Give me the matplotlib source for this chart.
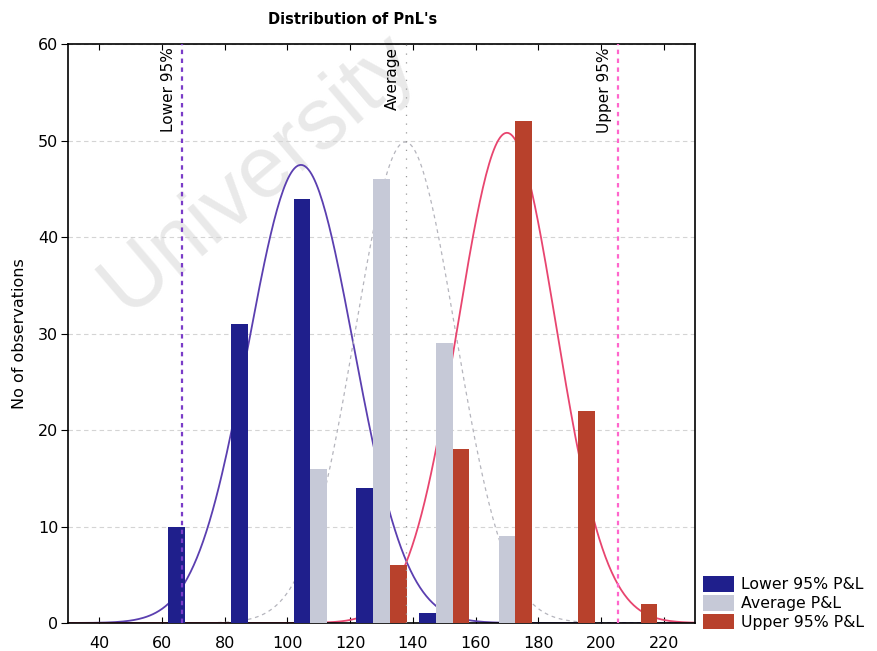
import numpy as np
import matplotlib
matplotlib.use("Agg")
import matplotlib.pyplot as plt
from matplotlib.patches import Patch

# histogram bins (centre of each 20-wide class)
bin_centers = [70, 90, 110, 130, 150, 170, 190, 210]
lower_counts = [10, 31, 44, 14, 1, 0, 0, 0]
average_counts = [0, 0, 16, 46, 29, 9, 0, 0]
upper_counts = [0, 0, 0, 6, 18, 52, 22, 2]
bin_width = 20

# fitted normal curves (mean, sd)
lower_fit = (104.3, 16.8)
average_fit = (137.6, 16.0)
upper_fit = (170.0, 15.7)

# marker lines
marker_names = ["Lower 95%", "Average", "Upper 95%"]
marker_values = [66.4, 137.8, 205.3]

series_names = ["Lower 95% P&L", "Average P&L", "Upper 95% P&L"]
bar_colors = ["#1f1f8c", "#c6c9d7", "#b8412c"]

plt.rcParams["font.family"] = ["DejaVu Sans"]

fig = plt.figure(figsize=(8.77, 6.51), dpi=100)
ax = fig.add_axes([0.0775, 0.043, 0.715, 0.889])
ax.patch.set_visible(False)

# watermark
fig.text(0.144, 0.516, "University", rotation=40.4, rotation_mode="anchor",
         ha="left", va="baseline", fontsize=63, family="Liberation Sans",
         color="#e9e9e9", zorder=-5)

x = np.linspace(30, 230, 400)


def normal_curve(counts, fit):
    m, s = fit
    n = sum(counts)
    return n * bin_width * np.exp(-0.5 * ((x - m) / s) ** 2) / (s * np.sqrt(2 * np.pi))


ax.plot(x, normal_curve(lower_counts, lower_fit), color="#5b3fb0", lw=1.3, zorder=2)
ax.plot(x, normal_curve(average_counts, average_fit), color="#b5b5bd", lw=0.9,
        ls=(0, (3, 3)), zorder=2)
ax.plot(x, normal_curve(upper_counts, upper_fit), color="#e8456f", lw=1.3, zorder=2)

w = 16 / 3
centers = np.array(bin_centers)
ax.bar(centers - w, lower_counts, width=w, align="center", color=bar_colors[0], zorder=3)
ax.bar(centers, average_counts, width=w, align="center", color=bar_colors[1], zorder=3)
ax.bar(centers + w, upper_counts, width=w, align="center", color=bar_colors[2], zorder=3)

# vertical marker lines and their labels
line_styles = [("#7a3cc8", 1.6, (0, (2, 2))),
               ("#9a9a9a", 0.9, (0, (1, 6))),
               ("#ff66cc", 1.6, (0, (2, 2)))]
for name, val, (c, lw, ls) in zip(marker_names, marker_values, line_styles):
    ax.axvline(val, color=c, lw=lw, ls=ls, zorder=4)
    ax.text(val - 1.9, 59.7, name, rotation=90, ha="right", va="top",
            fontsize=11, color="black", zorder=5)

ax.set_xlim(30, 230)
ax.set_ylim(0, 60)
ax.set_xticks(range(40, 221, 20))
ax.set_yticks(range(0, 61, 10))
ax.yaxis.grid(True, color="#d4d4d4", lw=0.8, ls=(0, (4, 3)))
ax.set_axisbelow(True)

ax.tick_params(axis="x", direction="in", top=True, length=4, pad=9, labelsize=11.5)
ax.tick_params(axis="y", direction="out", length=5, pad=2, labelsize=11.5)
for sp in ax.spines.values():
    sp.set_linewidth(1.2)
    sp.set_color("black")

ax.set_ylabel("No of observations", fontsize=11.5, labelpad=8)
fig.text(353 / 877, 1 - 19 / 651, "Distribution of PnL's", ha="center", va="center",
         fontsize=10.5, fontweight="bold")

handles = [Patch(facecolor=c, edgecolor="none") for c in bar_colors]
fig.legend(handles, series_names, loc="lower left",
           bbox_to_anchor=(703 / 877, 21 / 651), frameon=False, fontsize=11.3,
           borderpad=0, borderaxespad=0, handlelength=2.0, handleheight=1.15,
           labelspacing=0.17, handletextpad=0.45)

fig.savefig("out.png", dpi=100)
